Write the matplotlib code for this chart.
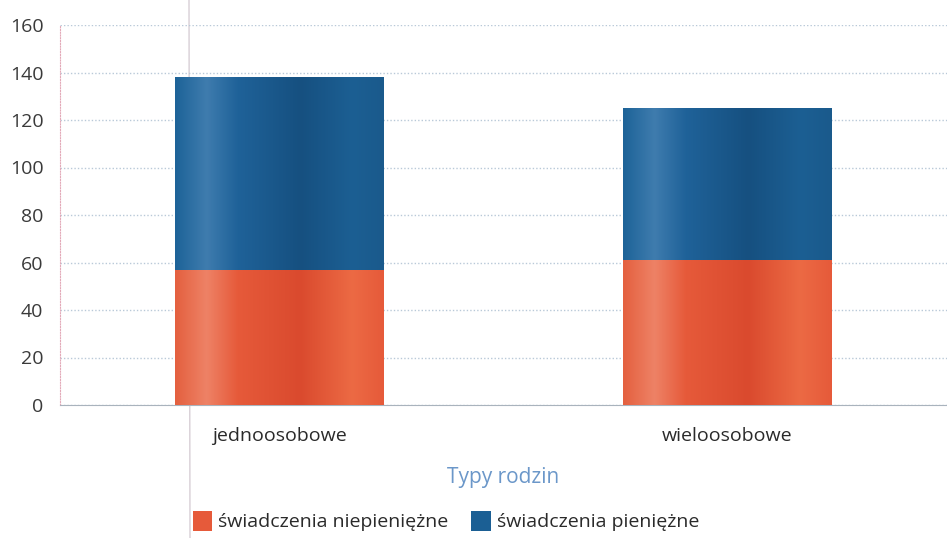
import matplotlib.pyplot as plt
import numpy as np
from matplotlib.colors import LinearSegmentedColormap
from matplotlib.lines import Line2D
from matplotlib.patches import Patch

plt.rcParams["font.family"] = ["Open Sans", "DejaVu Sans"]

categories = ["jednoosobowe", "wieloosobowe"]
niepieniezne = [57, 61]
pieniezne = [81, 64]
series_names = ["świadczenia niepieniężne", "świadczenia pieniężne"]
y_ticks = [0, 20, 40, 60, 80, 100, 120, 140, 160]

ORANGE = "#e65a3a"
BLUE = "#1b5f94"

# cylinder-like shading across each bar
orange_cmap = LinearSegmentedColormap.from_list(
    "orange", [(0.0, "#e4603f"), (0.15, "#ee8266"), (0.3, "#e65a3a"),
               (0.6, "#da4a2e"), (0.85, "#ec6a44"), (1.0, "#e65a3a")])
blue_cmap = LinearSegmentedColormap.from_list(
    "blue", [(0.0, "#1d6398"), (0.15, "#3f7cae"), (0.3, "#1f6299"),
             (0.6, "#165080"), (0.85, "#1c5f93"), (1.0, "#1a5a8c")])


def shade_bars(ax, bars, cmap):
    grad = np.linspace(0, 1, 256).reshape(1, -1)
    for bar in bars:
        x0, y0 = bar.get_x(), bar.get_y()
        w, h = bar.get_width(), bar.get_height()
        im = ax.imshow(grad, cmap=cmap, aspect="auto", extent=(x0, x0 + w, y0, y0 + h), zorder=bar.get_zorder() + 0.1)
        im.set_clip_path(bar)


fig = plt.figure(figsize=(9.47, 5.38), dpi=100)
fig.patch.set_facecolor("white")

# faint fold line from the scanned page
fig.add_artist(Line2D([189 / 947, 190 / 947], [1, 0], transform=fig.transFigure, color="#d8cfd6", linewidth=1.0, zorder=0))

ax = fig.add_axes([60 / 947, 1 - 405 / 538, 1 - 60 / 947, 380 / 538])
ax.patch.set_alpha(0)

x = np.arange(len(categories))
width = 0.465
b1 = ax.bar(x, niepieniezne, width, color=ORANGE, zorder=3)
b2 = ax.bar(x, pieniezne, width, bottom=niepieniezne, color=BLUE, zorder=3)
shade_bars(ax, b1, orange_cmap)
shade_bars(ax, b2, blue_cmap)

ax.set_xlim(-0.49, 1.49)
ax.set_ylim(0, 160)
ax.set_yticks(y_ticks)
ax.set_yticklabels([str(v) for v in y_ticks], fontsize=14, color="#3a3a3a")
ax.set_xticks(x)
ax.set_xticklabels(categories, fontsize=14, color="#2a2a2a")
ax.tick_params(axis="x", length=0, pad=16)
ax.tick_params(axis="y", length=0, pad=12)

ax.yaxis.grid(True, linestyle=(0, (1, 1.5)), color="#b9c9d8", linewidth=1.0, zorder=0)
ax.set_axisbelow(True)
for side in ["top", "right"]:
    ax.spines[side].set_visible(False)
ax.spines["left"].set_color("#e3a9b8")
ax.spines["left"].set_linestyle((0, (1, 1.5)))
ax.spines["bottom"].set_color("#a9b3bd")

ax.set_xlabel("Typy rodzin", fontsize=15, color="#6b97c9", labelpad=16)

handles = [Patch(facecolor=ORANGE), Patch(facecolor=BLUE)]
fig.legend(handles, series_names, loc="lower left", bbox_to_anchor=(175 / 947, -0.02), ncol=2, frameon=False,
           fontsize=14, handlelength=1.0, handleheight=1.2, handletextpad=0.3, columnspacing=1.2,
           labelcolor="#2a2a2a")

fig.savefig("out.png", dpi=100)
